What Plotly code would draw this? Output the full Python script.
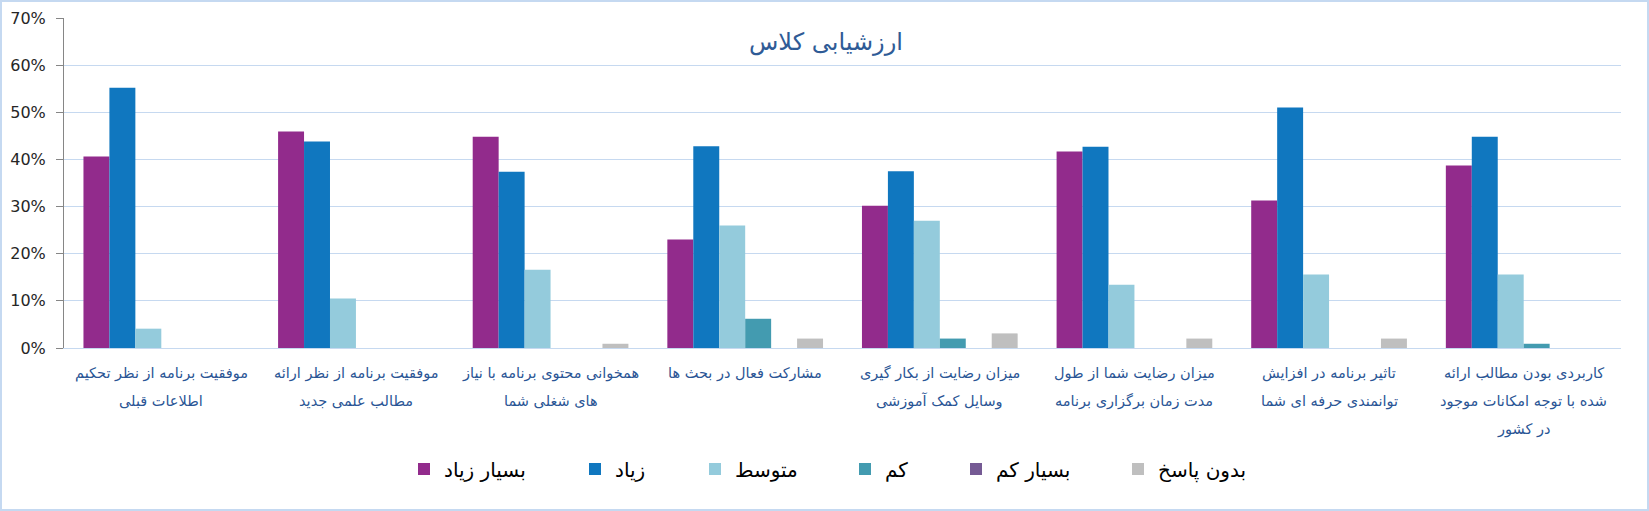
import plotly.graph_objects as go

# ---------------- data ----------------
category_lines = [
    ["موفقیت برنامه از نظر تحکیم", "اطلاعات قبلی"],
    ["موفقیت برنامه از نظر ارائه", "مطالب علمی جدید"],
    ["همخوانی محتوی برنامه با نیاز", "های شغلی شما"],
    ["مشارکت فعال در بحث ها"],
    ["میزان رضایت از بکار گیری", "وسایل کمک آموزشی"],
    ["میزان رضایت شما از طول", "مدت زمان برگزاری برنامه"],
    ["تاثیر برنامه در افزایش", "توانمندی حرفه ای شما"],
    ["کاربردی بودن مطالب ارائه", "شده با توجه امکانات موجود", "در کشور"],
]
categories = [" ".join(lines) for lines in category_lines]

series_names = ["بسیار زیاد", "زیاد", "متوسط", "کم", "بسیار کم", "بدون پاسخ"]
very_high = [40.6, 45.9, 44.8, 23.0, 30.2, 41.7, 31.3, 38.7]
high = [55.2, 43.8, 37.4, 42.8, 37.5, 42.7, 51.0, 44.8]
medium = [4.1, 10.5, 16.6, 26.0, 27.0, 13.4, 15.6, 15.6]
low = [0, 0, 0, 6.2, 2.0, 0, 0, 0.9]
very_low = [0, 0, 0, 0, 0, 0, 0, 0]
no_answer = [0, 0, 0.9, 2.0, 3.1, 2.0, 2.0, 0]
series_values = [very_high, high, medium, low, very_low, no_answer]

title_text = "ارزشیابی کلاس"

# ---------------- style ----------------
colors = ["#922B8C", "#1077BF", "#94CBDC", "#439BB0", "#755A94", "#BFBFBF"]
W_PX, H_PX = 1649, 511
L, R, T, B = 64, 28, 18, 163
legend_marker_center_px = [424, 595, 715, 865, 976, 1138]
LEG_OFFSET = 20
label_color = "#2A5595"

fig = go.Figure()
legend_ids = ["legend"] + [f"legend{i}" for i in range(2, 7)]
for name, vals, col, lid in zip(series_names, series_values, colors, legend_ids):
    fig.add_trace(go.Bar(
        x=categories,
        y=[v / 100 for v in vals],
        name=name,
        marker=dict(color=col, line=dict(width=0)),
        legend=lid,
    ))

layout_legends = {}
for i, lid in enumerate(legend_ids):
    layout_legends[lid] = dict(
        orientation="h",
        xref="container", yref="container",
        x=(legend_marker_center_px[i] - LEG_OFFSET) / W_PX,
        y=1 - 469 / H_PX,
        xanchor="left", yanchor="middle",
        font=dict(family="DejaVu Sans", size=20, color="#000000"),
        bgcolor="rgba(0,0,0,0)",
    )

annotations = []
for cat, lines in zip(categories, category_lines):
    for i, line in enumerate(lines):
        annotations.append(dict(
            x=cat, xref="x", y=0, yref="paper",
            text=line, showarrow=False,
            yanchor="middle", xanchor="center",
            yshift=-(25 + 28 * i),
            font=dict(family="DejaVu Sans", size=14.5, color=label_color),
        ))

PW = W_PX - L - R
PH = H_PX - T - B
shapes = [dict(
    type="rect", xref="paper", yref="paper",
    x0=-(L - 1) / PW, x1=1 + (R - 1) / PW,
    y0=-(B - 1) / PH, y1=1 + (T - 1) / PH,
    line=dict(color="#C5D9F1", width=2),
    fillcolor="rgba(0,0,0,0)", layer="below",
)]

fig.update_layout(
    width=W_PX, height=H_PX,
    margin=dict(l=L, r=R, t=T, b=B, autoexpand=False),
    paper_bgcolor="white", plot_bgcolor="white",
    barmode="group", bargap=0.2, bargroupgap=0,
    title=dict(
        text=title_text, xref="container", yref="container",
        x=826 / W_PX, y=1 - 42 / H_PX, xanchor="center", yanchor="middle",
        font=dict(family="DejaVu Sans", size=24, color="#2F5B96"),
    ),
    xaxis=dict(
        showticklabels=False, showgrid=False, automargin=False,
        showline=True, linecolor="#C6D9F0", linewidth=1,
        ticks="", zeroline=False,
    ),
    yaxis=dict(
        range=[0, 0.7], dtick=0.1, tickformat=".0%", automargin=False,
        showgrid=True, gridcolor="#C6D9F0", gridwidth=1,
        showline=True, linecolor="#868686", linewidth=1,
        ticks="outside", ticklen=7, tickcolor="#868686",
        ticklabelstandoff=7,
        tickfont=dict(family="DejaVu Sans", size=16, color="#262626"),
        zeroline=False,
    ),
    annotations=annotations,
    shapes=shapes,
    showlegend=True,
    **layout_legends,
)

fig.write_html(
    "out.html",
    config={"displayModeBar": False},
    post_script="document.body.style.margin='0';document.body.style.padding='0';",
)
